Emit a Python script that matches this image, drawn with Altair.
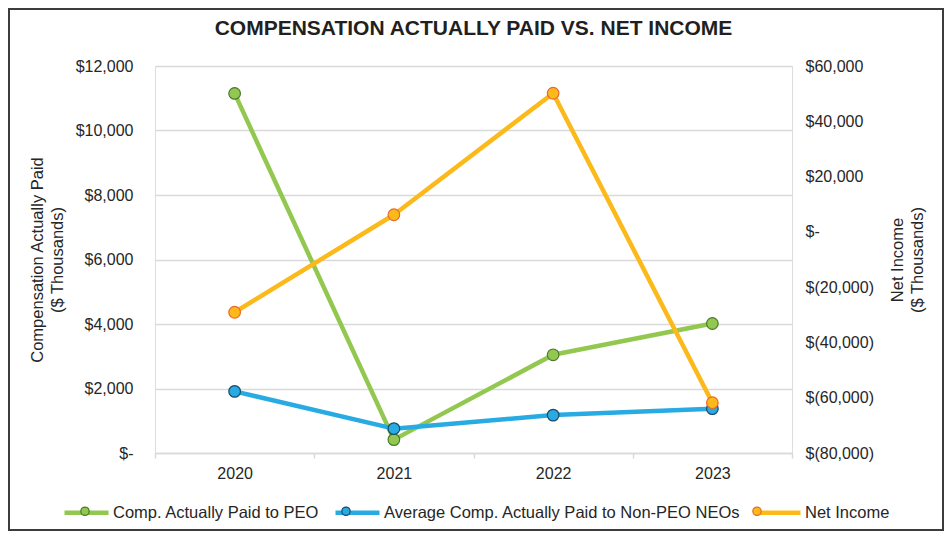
import altair as alt
import pandas as pd

# ---------------- data ----------------
years = ["2020", "2021", "2022", "2023"]
peo_cap = [11150, 415, 3045, 4015]          # $ thousands, left axis
non_peo_cap = [1910, 755, 1175, 1375]       # $ thousands, left axis
net_income = [-29080, 6200, 50140, -61800]  # $ thousands, right axis

series_names = [
    "Comp. Actually Paid to PEO",
    "Average Comp. Actually Paid to Non-PEO NEOs",
    "Net Income",
]
line_colors = ["#92C84F", "#27ABE2", "#FBB91A"]
marker_fill = ["#92C84F", "#27ABE2", "#FBB91A"]
marker_stroke = ["#4B7A2C", "#1B4A6B", "#E8692C"]

left_ticks = [0, 2000, 4000, 6000, 8000, 10000, 12000]
right_ticks = [-80000, -60000, -40000, -20000, 0, 20000, 40000, 60000]

title_text = "COMPENSATION ACTUALLY PAID VS. NET INCOME"
left_title = ["Compensation Actually Paid", "($ Thousands)"]
right_title = ["Net Income", "($ Thousands)"]

# ---------------- tables ----------------
rows_left = []
for name, vals in [(series_names[0], peo_cap), (series_names[1], non_peo_cap)]:
    for y, v in zip(years, vals):
        rows_left.append({"year": y, "series": name, "value": v})
df_left = pd.DataFrame(rows_left)
df_right = pd.DataFrame(
    [{"year": y, "series": series_names[2], "value": v} for y, v in zip(years, net_income)]
)

FONT = "Liberation Sans"
TXT = "#262626"
GRID = "#D9D9D9"

# plot-area geometry (inside 936x523 chart)
W, H = 637, 387
PAD = {"left": 147, "top": 58, "right": 152, "bottom": 78}

x_enc = alt.X(
    "year:N",
    sort=years,
    scale=alt.Scale(type="band", paddingInner=0, paddingOuter=0),
    axis=alt.Axis(
        title=None, labelAngle=0, grid=False, domainColor=GRID, domainWidth=1.5,
        ticks=True, tickBand="extent", tickColor=GRID, tickSize=5, tickWidth=1.5,
        labelFont=FONT, labelFontSize=16, labelColor=TXT, labelPadding=7,
    ),
)

y_left = alt.Y(
    "value:Q",
    scale=alt.Scale(domain=[0, 12000], nice=False, zero=False),
    axis=alt.Axis(
        orient="left", values=left_ticks, grid=True, gridColor=GRID, gridWidth=1.5,
        domain=False, ticks=False, tickSize=0, labelPadding=22,
        labelExpr="datum.value == 0 ? '$-' : '$' + format(datum.value, ',')",
        labelFont=FONT, labelFontSize=16, labelColor=TXT,
        title=left_title, titleFont=FONT, titleFontSize=16.5, titleFontWeight="normal",
        titleColor=TXT, titleLineHeight=20, titlePadding=10, titleAngle=270,
        titleBaseline="bottom",
    ),
)

y_right = alt.Y(
    "value:Q",
    scale=alt.Scale(domain=[-80000, 60000], nice=False, zero=False),
    axis=alt.Axis(
        orient="right", values=right_ticks, grid=False, domain=False, ticks=False,
        tickSize=0, labelPadding=13,
        labelExpr="datum.value == 0 ? '$-' : (datum.value < 0 ? '$(' + format(-datum.value, ',') + ')' : '$' + format(datum.value, ','))",
        labelFont=FONT, labelFontSize=16, labelColor=TXT,
        title=right_title, titleFont=FONT, titleFontSize=16.5, titleFontWeight="normal",
        titleColor=TXT, titleLineHeight=20, titlePadding=-4, titleAngle=270,
        titleBaseline="top",
    ),
)

LEG_X, LEG_Y = -93, 422
legend_lines = alt.Legend(
    title=None, orient="none", legendX=LEG_X, legendY=LEG_Y, direction="horizontal",
    symbolType="stroke", symbolSize=1936, symbolStrokeWidth=4.5,
    labelFont=FONT, labelFontSize=16.5, labelColor=TXT, labelOffset=2, labelLimit=600,
    columnPadding=6, padding=0,
)
circle_path = "M0.19,0A0.19,0.19,0,1,1,-0.19,0A0.19,0.19,0,1,1,0.19,0Z"
legend_marks = alt.Legend(
    title=None, orient="none", legendX=LEG_X, legendY=LEG_Y, direction="horizontal",
    symbolType=circle_path, symbolSize=1936, symbolStrokeWidth=1.2, symbolOpacity=1,
    labelFont=FONT, labelFontSize=16.5, labelOpacity=0, labelOffset=2, labelLimit=600,
    columnPadding=6, padding=0, values=series_names,
)

color_enc = alt.Color(
    "series:N",
    scale=alt.Scale(domain=series_names, range=line_colors),
    legend=legend_lines,
)
# reversed domain order keeps the marker legend separate from the line legend
rev_names = series_names[::-1]
fill_enc = alt.Fill(
    "series:N",
    scale=alt.Scale(domain=rev_names, range=marker_fill[::-1]),
    legend=legend_marks,
)
stroke_enc = alt.Stroke(
    "series:N",
    scale=alt.Scale(domain=rev_names, range=marker_stroke[::-1]),
    legend=legend_marks,
)

line_kw = dict(strokeWidth=4.5, strokeCap="round", strokeJoin="round")
pt_kw = dict(shape="circle", filled=True, size=135, strokeWidth=1.2, opacity=1)

left_lines = alt.Chart(df_left).mark_line(**line_kw).encode(
    x=x_enc, y=y_left, color=color_enc, detail="series:N"
)
left_pts = alt.Chart(df_left).mark_point(**pt_kw).encode(
    x=x_enc, y=y_left, fill=fill_enc, stroke=stroke_enc
)
right_lines = alt.Chart(df_right).mark_line(**line_kw).encode(
    x=x_enc, y=y_right, color=color_enc
)
right_pts = alt.Chart(df_right).mark_point(**pt_kw).encode(
    x=x_enc, y=y_right, fill=fill_enc, stroke=stroke_enc
)

border = alt.Chart(alt.Data(values=[{}])).mark_rect(
    filled=False, fillOpacity=0, stroke="#3C3C3C", strokeWidth=2
).encode(
    x=alt.value(-PAD["left"] + 1), x2=alt.value(W + PAD["right"] - 1),
    y=alt.value(-PAD["top"] + 1), y2=alt.value(H + PAD["bottom"] - 1),
)

left_layer = alt.layer(left_lines, left_pts)
right_layer = alt.layer(right_lines, right_pts)

chart = (
    alt.layer(border, left_layer, right_layer)
    .resolve_scale(y="independent")
    .properties(
        width=W, height=H,
        padding=PAD,
        autosize=alt.AutoSizeParams(type="none"),
        title=alt.TitleParams(
            text=title_text, font=FONT, fontSize=21, fontWeight="bold", color="#231F20",
            anchor="middle", frame="group", baseline="alphabetic", offset=-48,
        ),
    )
    .configure_view(stroke=None)
    .configure(background="white")
)

chart.save("out.html", embed_options={"renderer": "svg", "actions": False})
